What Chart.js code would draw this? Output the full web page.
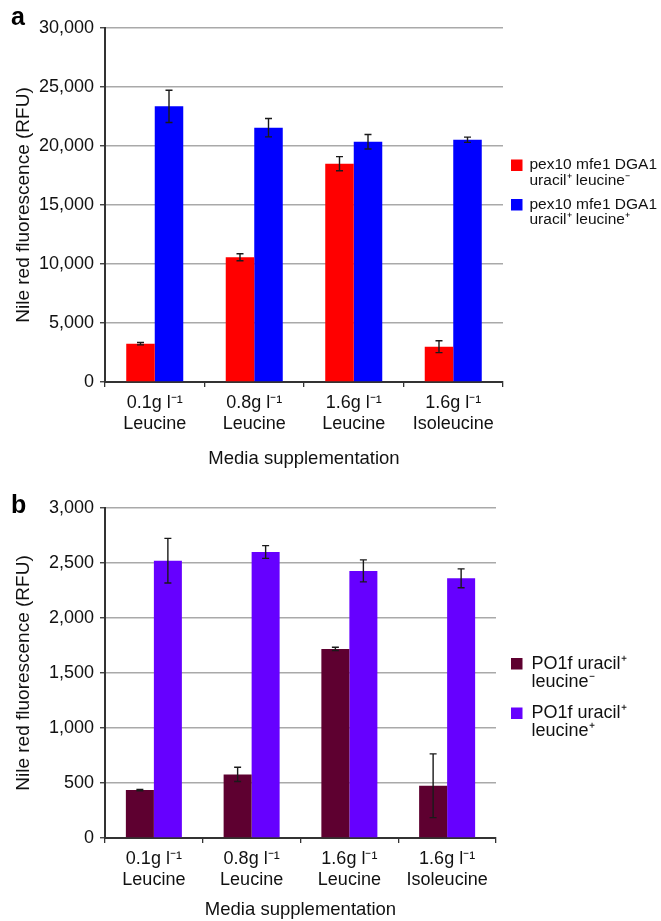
<!DOCTYPE html>
<html>
<head>
<meta charset="utf-8">
<script src="https://cdn.jsdelivr.net/npm/chart.js@4.4.1/dist/chart.umd.min.js"></script>
<style>
  body { margin: 0; background: #fff; }
  #wrap { position: relative; width: 661px; height: 921px; }
  #chartA { position: absolute; left: 0; top: 0; }
  #chartB { position: absolute; left: 0; top: 470px; }
</style>
</head>
<body>
<div id="wrap">
  <canvas id="chartA" width="661" height="470"></canvas>
  <canvas id="chartB" width="661" height="451"></canvas>
</div>
<script>
// media supplementation categories (x axis)
const categories = [
  ['0.1g l\u207B\u00B9', 'Leucine'],
  ['0.8g l\u207B\u00B9', 'Leucine'],
  ['1.6g l\u207B\u00B9', 'Leucine'],
  ['1.6g l\u207B\u00B9', 'Isoleucine']
];

// panel a: pex10 mfe1 DGA1
const aLeuMinus = [3250, 10570, 18500, 2990];
const aLeuMinusErr = [100, 300, 600, 500];
const aLeuPlus = [23360, 21550, 20360, 20530];
const aLeuPlusErr = [1370, 780, 620, 220];
const aTicks = [0, 5000, 10000, 15000, 20000, 25000, 30000];

// panel b: PO1f
const bLeuMinus = [436, 578, 1719, 475];
const bLeuMinusErr = [6, 65, 15, 290];
const bLeuPlus = [2521, 2600, 2428, 2361];
const bLeuPlusErr = [203, 58, 100, 86];
const bTicks = [0, 500, 1000, 1500, 2000, 2500, 3000];

Chart.defaults.font.family = '"Liberation Sans", Arial, Helvetica, sans-serif';
Chart.defaults.color = '#111';

// error bars drawn from each dataset's errors array
const errorBars = {
  id: 'errorBars',
  afterDatasetsDraw(chart) {
    const ctx = chart.ctx;
    const y = chart.scales.y;
    ctx.save();
    ctx.strokeStyle = '#1a1a1a';
    ctx.lineWidth = 1.4;
    chart.data.datasets.forEach((ds, i) => {
      const meta = chart.getDatasetMeta(i);
      meta.data.forEach((bar, j) => {
        const v = ds.data[j], e = ds.errors[j];
        const yTop = y.getPixelForValue(v + e);
        const yBot = y.getPixelForValue(v - e);
        ctx.beginPath();
        ctx.moveTo(bar.x, yTop); ctx.lineTo(bar.x, yBot);
        ctx.moveTo(bar.x - 3.5, yTop); ctx.lineTo(bar.x + 3.5, yTop);
        ctx.moveTo(bar.x - 3.5, yBot); ctx.lineTo(bar.x + 3.5, yBot);
        ctx.stroke();
      });
    });
    ctx.restore();
  }
};

// two-line legend on the right and the panel letter
const sideLegend = {
  id: 'sideLegend',
  afterDraw(chart, args, opts) {
    const ctx = chart.ctx;
    ctx.save();
    ctx.font = 'bold ' + opts.tagSize + 'px "Liberation Sans", Arial, sans-serif';
    ctx.fillStyle = '#000';
    ctx.textBaseline = 'alphabetic';
    ctx.fillText(opts.tag, 11, opts.tagY);
    ctx.font = opts.size + 'px "Liberation Sans", Arial, sans-serif';
    ctx.textBaseline = 'middle';
    chart.data.datasets.forEach((ds, i) => {
      const top = opts.tops[i];
      ctx.fillStyle = ds.backgroundColor;
      ctx.fillRect(opts.boxX, top, opts.box, opts.box);
      ctx.fillStyle = '#111';
      ds.legendLines.forEach((line, k) => {
        ctx.fillText(line, opts.textX, top + opts.first + k * opts.lineGap);
      });
    });
    ctx.restore();
  }
};

function makeChart(id, cfg) {
  return new Chart(document.getElementById(id), {
    type: 'bar',
    data: {
      labels: categories,
      datasets: cfg.datasets.map(d => ({
        label: d.label,
        legendLines: d.lines,
        data: d.data,
        errors: d.errors,
        backgroundColor: d.color,
        borderWidth: 0,
        categoryPercentage: 0.573,
        barPercentage: 1.0
      }))
    },
    options: {
      responsive: false,
      animation: false,
      layout: { padding: { top: cfg.padTop, right: cfg.padRight, left: 8, bottom: 0 } },
      plugins: {
        legend: { display: false },
        tooltip: { enabled: false },
        sideLegend: cfg.legend
      },
      scales: {
        x: {
          grid: { display: true, drawOnChartArea: false, drawTicks: true, tickLength: 5, color: '#333', lineWidth: 1.3 },
          border: { display: true, color: '#333', width: 2 },
          ticks: { font: { size: 18, lineHeight: 1.2 }, padding: 5, color: '#111', maxRotation: 0 },
          title: { display: true, text: 'Media supplementation', font: { size: 18.5, lineHeight: 1.2 }, color: '#111', padding: { top: 0, bottom: 0 } },
          afterFit(axis) { axis.height = cfg.xHeight; }
        },
        y: {
          min: 0,
          max: cfg.ticks[cfg.ticks.length - 1],
          afterBuildTicks(axis) { axis.ticks = cfg.ticks.map(v => ({ value: v })); },
          grid: { color: '#a9a9a9', lineWidth: 1.5, tickLength: 5, tickColor: '#333', tickWidth: 1.3 },
          border: { display: true, color: '#333', width: 2 },
          ticks: {
            font: { size: 18 }, padding: 6, color: '#111',
            callback: v => v.toLocaleString('en-US')
          },
          title: { display: true, text: 'Nile red fluorescence (RFU)', font: { size: 19, lineHeight: 1.2 }, color: '#111', padding: { top: 4, bottom: 0 } },
          afterFit(axis) { axis.width = 97; }
        }
      }
    },
    plugins: [errorBars, sideLegend]
  });
}

makeChart('chartA', {
  padTop: 28, padRight: 158, xHeight: 88, ticks: aTicks,
  datasets: [
    { label: 'pex10 mfe1 DGA1 uracil+ leucine-', lines: ['pex10 mfe1 DGA1', 'uracil\u207A leucine\u207B'], data: aLeuMinus, errors: aLeuMinusErr, color: '#ff0000' },
    { label: 'pex10 mfe1 DGA1 uracil+ leucine+', lines: ['pex10 mfe1 DGA1', 'uracil\u207A leucine\u207A'], data: aLeuPlus, errors: aLeuPlusErr, color: '#0000ff' }
  ],
  legend: { tag: 'a', tagSize: 25, tagY: 25, size: 15.5, boxX: 511, box: 11.5, tops: [159.5, 199], textX: 529.5, first: 5.5, lineGap: 15.5 }
});

makeChart('chartB', {
  padTop: 38, padRight: 165, xHeight: 83, ticks: bTicks,
  datasets: [
    { label: 'PO1f uracil+ leucine-', lines: ['PO1f uracil\u207A', 'leucine\u207B'], data: bLeuMinus, errors: bLeuMinusErr, color: '#5e0030' },
    { label: 'PO1f uracil+ leucine+', lines: ['PO1f uracil\u207A', 'leucine\u207A'], data: bLeuPlus, errors: bLeuPlusErr, color: '#6600ff' }
  ],
  legend: { tag: 'b', tagSize: 25, tagY: 43, size: 18, boxX: 511, box: 11.5, tops: [188, 237.5], textX: 531.5, first: 6, lineGap: 18 }
});
</script>
</body>
</html>
